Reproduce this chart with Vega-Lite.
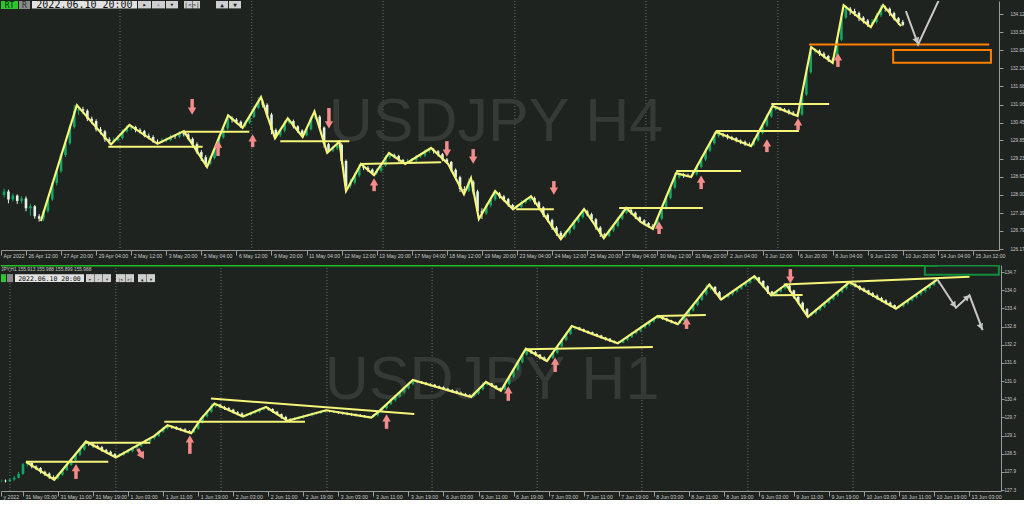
{
"$schema": "https://vega.github.io/schema/vega-lite/v6.json",
"background": "#1e231f",
"padding": 0,
"spacing": 15,
"bounds": "flush",
"config": {"view": {"stroke": null}, "axis": {"labelOverlap": false}},
"datasets": {
"top": [
{"i":-6,"o":128.1,"h":128.2,"l":127.9,"c":128.0},
{"i":-5,"o":128.0,"h":128.22,"l":127.92,"c":128.12},
{"i":-4,"o":128.12,"h":128.18,"l":127.72,"c":127.85},
{"i":-3,"o":127.85,"h":128.05,"l":127.78,"c":127.98},
{"i":-2,"o":127.98,"h":128.02,"l":127.7,"c":127.8},
{"i":-1,"o":127.8,"h":127.96,"l":127.72,"c":127.88},
{"i":0,"o":127.88,"h":127.95,"l":127.45,"c":127.55},
{"i":1,"o":127.55,"h":127.7,"l":127.3,"c":127.62},
{"i":2,"o":127.62,"h":127.66,"l":127.2,"c":127.28},
{"i":3,"o":127.28,"h":127.35,"l":127.1,"c":127.2},
{"i":4,"o":127.2,"h":127.5,"l":127.12,"c":127.45},
{"i":5,"o":127.45,"h":127.92,"l":127.4,"c":127.85},
{"i":6,"o":127.85,"h":128.45,"l":127.8,"c":128.4},
{"i":7,"o":128.4,"h":128.88,"l":128.32,"c":128.8},
{"i":8,"o":128.8,"h":129.42,"l":128.75,"c":129.35},
{"i":9,"o":129.35,"h":129.85,"l":129.28,"c":129.75},
{"i":10,"o":129.75,"h":130.38,"l":129.7,"c":130.3},
{"i":11,"o":130.3,"h":131.04,"l":130.25,"c":130.85},
{"i":12,"o":130.85,"h":131.0,"l":130.7,"c":130.9},
{"i":13,"o":130.9,"h":130.98,"l":130.75,"c":130.85},
{"i":14,"o":130.85,"h":130.9,"l":130.5,"c":130.58},
{"i":15,"o":130.58,"h":130.65,"l":130.4,"c":130.5},
{"i":16,"o":130.5,"h":130.56,"l":130.15,"c":130.22},
{"i":17,"o":130.22,"h":130.3,"l":130.05,"c":130.15},
{"i":18,"o":130.15,"h":130.2,"l":129.8,"c":129.88},
{"i":19,"o":129.88,"h":129.95,"l":129.71,"c":129.82},
{"i":20,"o":129.82,"h":129.95,"l":129.75,"c":129.85},
{"i":21,"o":129.85,"h":130.02,"l":129.8,"c":129.92},
{"i":22,"o":129.92,"h":130.22,"l":129.88,"c":130.15},
{"i":23,"o":130.15,"h":130.37,"l":130.1,"c":130.25},
{"i":24,"o":130.25,"h":130.36,"l":130.18,"c":130.3},
{"i":25,"o":130.3,"h":130.34,"l":130.12,"c":130.2},
{"i":26,"o":130.2,"h":130.26,"l":130.08,"c":130.16},
{"i":27,"o":130.16,"h":130.2,"l":129.95,"c":130.0},
{"i":28,"o":130.0,"h":130.08,"l":129.88,"c":129.96},
{"i":29,"o":129.96,"h":130.02,"l":129.76,"c":129.8},
{"i":30,"o":129.8,"h":129.88,"l":129.73,"c":129.78},
{"i":31,"o":129.78,"h":129.92,"l":129.75,"c":129.84},
{"i":32,"o":129.84,"h":129.95,"l":129.78,"c":129.86},
{"i":33,"o":129.86,"h":130.05,"l":129.82,"c":129.98},
{"i":34,"o":129.98,"h":130.06,"l":129.9,"c":129.97},
{"i":35,"o":129.97,"h":130.16,"l":129.92,"c":130.1},
{"i":36,"o":130.1,"h":130.16,"l":129.98,"c":130.05},
{"i":37,"o":130.05,"h":130.1,"l":129.85,"c":129.9},
{"i":38,"o":129.9,"h":129.95,"l":129.6,"c":129.72},
{"i":39,"o":129.72,"h":129.78,"l":129.38,"c":129.45},
{"i":40,"o":129.45,"h":129.52,"l":129.15,"c":129.28},
{"i":41,"o":129.28,"h":129.35,"l":128.95,"c":129.05},
{"i":42,"o":129.05,"h":129.32,"l":129.0,"c":129.25},
{"i":43,"o":129.25,"h":129.62,"l":129.2,"c":129.55},
{"i":44,"o":129.55,"h":130.02,"l":129.5,"c":129.95},
{"i":45,"o":129.95,"h":130.35,"l":129.9,"c":130.25},
{"i":46,"o":130.25,"h":130.69,"l":130.2,"c":130.6},
{"i":47,"o":130.6,"h":130.66,"l":130.45,"c":130.55},
{"i":48,"o":130.55,"h":130.6,"l":130.4,"c":130.48},
{"i":49,"o":130.48,"h":130.52,"l":130.27,"c":130.33},
{"i":50,"o":130.33,"h":130.52,"l":130.28,"c":130.45},
{"i":51,"o":130.45,"h":130.72,"l":130.4,"c":130.64},
{"i":52,"o":130.64,"h":131.02,"l":130.6,"c":130.95},
{"i":53,"o":130.95,"h":131.31,"l":130.9,"c":131.15},
{"i":54,"o":131.15,"h":131.22,"l":130.96,"c":131.05},
{"i":55,"o":131.05,"h":131.1,"l":130.62,"c":130.72},
{"i":56,"o":130.72,"h":130.78,"l":130.05,"c":130.2},
{"i":57,"o":130.2,"h":130.25,"l":129.92,"c":130.02},
{"i":58,"o":130.02,"h":130.25,"l":129.96,"c":130.18},
{"i":59,"o":130.18,"h":130.52,"l":130.12,"c":130.45},
{"i":60,"o":130.45,"h":130.59,"l":130.4,"c":130.5},
{"i":61,"o":130.5,"h":130.55,"l":130.25,"c":130.32},
{"i":62,"o":130.32,"h":130.36,"l":130.1,"c":130.18},
{"i":63,"o":130.18,"h":130.22,"l":129.96,"c":130.02},
{"i":64,"o":130.02,"h":130.3,"l":129.98,"c":130.22},
{"i":65,"o":130.22,"h":130.66,"l":130.18,"c":130.6},
{"i":66,"o":130.6,"h":130.82,"l":130.55,"c":130.65},
{"i":67,"o":130.65,"h":130.7,"l":130.2,"c":130.28},
{"i":68,"o":130.28,"h":130.32,"l":129.6,"c":129.72},
{"i":69,"o":129.72,"h":129.76,"l":129.43,"c":129.5},
{"i":70,"o":129.5,"h":129.66,"l":129.45,"c":129.58},
{"i":71,"o":129.58,"h":129.8,"l":129.52,"c":129.7},
{"i":72,"o":129.7,"h":129.75,"l":129.05,"c":129.15},
{"i":73,"o":129.15,"h":129.2,"l":128.13,"c":128.3},
{"i":74,"o":128.3,"h":128.55,"l":128.22,"c":128.42},
{"i":75,"o":128.42,"h":128.75,"l":128.36,"c":128.66},
{"i":76,"o":128.66,"h":129.05,"l":128.6,"c":128.95},
{"i":77,"o":128.95,"h":129.02,"l":128.84,"c":128.92},
{"i":78,"o":128.92,"h":128.98,"l":128.78,"c":128.86},
{"i":79,"o":128.86,"h":128.9,"l":128.67,"c":128.74},
{"i":80,"o":128.74,"h":128.9,"l":128.68,"c":128.82},
{"i":81,"o":128.82,"h":129.08,"l":128.76,"c":129.0},
{"i":82,"o":129.0,"h":129.34,"l":128.95,"c":129.28},
{"i":83,"o":129.28,"h":129.42,"l":129.22,"c":129.35},
{"i":84,"o":129.35,"h":129.4,"l":129.24,"c":129.32},
{"i":85,"o":129.32,"h":129.36,"l":129.12,"c":129.18},
{"i":86,"o":129.18,"h":129.22,"l":129.05,"c":129.12},
{"i":87,"o":129.12,"h":129.22,"l":129.06,"c":129.14},
{"i":88,"o":129.14,"h":129.25,"l":129.08,"c":129.18},
{"i":89,"o":129.18,"h":129.36,"l":129.12,"c":129.3},
{"i":90,"o":129.3,"h":129.42,"l":129.25,"c":129.34},
{"i":91,"o":129.34,"h":129.54,"l":129.28,"c":129.48},
{"i":92,"o":129.48,"h":129.59,"l":129.42,"c":129.52},
{"i":93,"o":129.52,"h":129.58,"l":129.4,"c":129.48},
{"i":94,"o":129.48,"h":129.52,"l":129.3,"c":129.38},
{"i":95,"o":129.38,"h":129.42,"l":129.14,"c":129.2},
{"i":96,"o":129.2,"h":129.25,"l":129.05,"c":129.12},
{"i":97,"o":129.12,"h":129.15,"l":128.78,"c":128.85},
{"i":98,"o":128.85,"h":128.9,"l":128.5,"c":128.6},
{"i":99,"o":128.6,"h":128.65,"l":128.1,"c":128.2},
{"i":100,"o":128.2,"h":128.3,"l":128.03,"c":128.15},
{"i":101,"o":128.15,"h":128.57,"l":128.1,"c":128.45},
{"i":102,"o":128.45,"h":128.5,"l":128.02,"c":128.12},
{"i":103,"o":128.12,"h":128.18,"l":127.3,"c":127.45},
{"i":104,"o":127.45,"h":127.55,"l":127.19,"c":127.38},
{"i":105,"o":127.38,"h":127.72,"l":127.32,"c":127.65},
{"i":106,"o":127.65,"h":127.92,"l":127.58,"c":127.85},
{"i":107,"o":127.85,"h":128.13,"l":127.8,"c":128.05},
{"i":108,"o":128.05,"h":128.1,"l":127.88,"c":127.95},
{"i":109,"o":127.95,"h":128.0,"l":127.78,"c":127.86},
{"i":110,"o":127.86,"h":127.9,"l":127.6,"c":127.66},
{"i":111,"o":127.66,"h":127.7,"l":127.52,"c":127.58},
{"i":112,"o":127.58,"h":127.68,"l":127.52,"c":127.6},
{"i":113,"o":127.6,"h":127.82,"l":127.55,"c":127.75},
{"i":114,"o":127.75,"h":127.88,"l":127.7,"c":127.82},
{"i":115,"o":127.82,"h":127.96,"l":127.78,"c":127.9},
{"i":116,"o":127.9,"h":127.95,"l":127.68,"c":127.75},
{"i":117,"o":127.75,"h":127.8,"l":127.5,"c":127.58},
{"i":118,"o":127.58,"h":127.62,"l":127.25,"c":127.33},
{"i":119,"o":127.33,"h":127.38,"l":127.08,"c":127.15},
{"i":120,"o":127.15,"h":127.2,"l":126.82,"c":126.9},
{"i":121,"o":126.9,"h":126.95,"l":126.62,"c":126.72},
{"i":122,"o":126.72,"h":126.78,"l":126.51,"c":126.6},
{"i":123,"o":126.6,"h":126.8,"l":126.55,"c":126.72},
{"i":124,"o":126.72,"h":126.92,"l":126.66,"c":126.86},
{"i":125,"o":126.86,"h":127.16,"l":126.82,"c":127.1},
{"i":126,"o":127.1,"h":127.32,"l":127.05,"c":127.25},
{"i":127,"o":127.25,"h":127.52,"l":127.2,"c":127.45},
{"i":128,"o":127.45,"h":127.5,"l":127.28,"c":127.35},
{"i":129,"o":127.35,"h":127.4,"l":127.1,"c":127.18},
{"i":130,"o":127.18,"h":127.22,"l":126.82,"c":126.9},
{"i":131,"o":126.9,"h":126.95,"l":126.58,"c":126.68},
{"i":132,"o":126.68,"h":126.72,"l":126.54,"c":126.62},
{"i":133,"o":126.62,"h":126.86,"l":126.58,"c":126.8},
{"i":134,"o":126.8,"h":127.02,"l":126.75,"c":126.95},
{"i":135,"o":126.95,"h":127.26,"l":126.9,"c":127.2},
{"i":136,"o":127.2,"h":127.48,"l":127.15,"c":127.4},
{"i":137,"o":127.4,"h":127.56,"l":127.36,"c":127.5},
{"i":138,"o":127.5,"h":127.54,"l":127.34,"c":127.4},
{"i":139,"o":127.4,"h":127.44,"l":127.18,"c":127.25},
{"i":140,"o":127.25,"h":127.28,"l":127.08,"c":127.14},
{"i":141,"o":127.14,"h":127.18,"l":126.98,"c":127.05},
{"i":142,"o":127.05,"h":127.08,"l":126.9,"c":126.96},
{"i":143,"o":126.96,"h":127.02,"l":126.85,"c":126.92},
{"i":144,"o":126.92,"h":127.26,"l":126.88,"c":127.2},
{"i":145,"o":127.2,"h":127.62,"l":127.15,"c":127.55},
{"i":146,"o":127.55,"h":127.98,"l":127.5,"c":127.9},
{"i":147,"o":127.9,"h":128.32,"l":127.85,"c":128.25},
{"i":148,"o":128.25,"h":128.74,"l":128.2,"c":128.6},
{"i":149,"o":128.6,"h":128.74,"l":128.55,"c":128.68},
{"i":150,"o":128.68,"h":128.74,"l":128.58,"c":128.66},
{"i":151,"o":128.66,"h":128.72,"l":128.61,"c":128.65},
{"i":152,"o":128.65,"h":128.78,"l":128.61,"c":128.7},
{"i":153,"o":128.7,"h":129.02,"l":128.66,"c":128.95},
{"i":154,"o":128.95,"h":129.28,"l":128.9,"c":129.2},
{"i":155,"o":129.2,"h":129.58,"l":129.15,"c":129.5},
{"i":156,"o":129.5,"h":129.82,"l":129.45,"c":129.75},
{"i":157,"o":129.75,"h":130.13,"l":129.7,"c":130.0},
{"i":158,"o":130.0,"h":130.12,"l":129.94,"c":130.05},
{"i":159,"o":130.05,"h":130.1,"l":129.95,"c":130.02},
{"i":160,"o":130.02,"h":130.06,"l":129.88,"c":129.95},
{"i":161,"o":129.95,"h":130.0,"l":129.85,"c":129.92},
{"i":162,"o":129.92,"h":129.96,"l":129.78,"c":129.84},
{"i":163,"o":129.84,"h":129.88,"l":129.72,"c":129.8},
{"i":164,"o":129.8,"h":129.84,"l":129.66,"c":129.72},
{"i":165,"o":129.72,"h":129.78,"l":129.65,"c":129.7},
{"i":166,"o":129.7,"h":129.92,"l":129.66,"c":129.85},
{"i":167,"o":129.85,"h":130.18,"l":129.8,"c":130.1},
{"i":168,"o":130.1,"h":130.42,"l":130.05,"c":130.35},
{"i":169,"o":130.35,"h":130.74,"l":130.3,"c":130.66},
{"i":170,"o":130.66,"h":131.01,"l":130.6,"c":130.9},
{"i":171,"o":130.9,"h":131.0,"l":130.85,"c":130.95},
{"i":172,"o":130.95,"h":130.98,"l":130.84,"c":130.9},
{"i":173,"o":130.9,"h":130.94,"l":130.8,"c":130.86},
{"i":174,"o":130.86,"h":130.9,"l":130.72,"c":130.78},
{"i":175,"o":130.78,"h":130.84,"l":130.68,"c":130.75},
{"i":176,"o":130.75,"h":130.8,"l":130.67,"c":130.72},
{"i":177,"o":130.72,"h":131.46,"l":130.68,"c":131.4},
{"i":178,"o":131.4,"h":132.22,"l":131.35,"c":132.15},
{"i":179,"o":132.15,"h":133.0,"l":132.1,"c":132.85},
{"i":180,"o":132.85,"h":132.96,"l":132.78,"c":132.88},
{"i":181,"o":132.88,"h":132.92,"l":132.7,"c":132.78},
{"i":182,"o":132.78,"h":132.84,"l":132.62,"c":132.7},
{"i":183,"o":132.7,"h":132.74,"l":132.5,"c":132.58},
{"i":184,"o":132.58,"h":132.64,"l":132.47,"c":132.55},
{"i":185,"o":132.55,"h":133.32,"l":132.5,"c":133.25},
{"i":186,"o":133.25,"h":134.1,"l":133.2,"c":134.0},
{"i":187,"o":134.0,"h":134.42,"l":133.95,"c":134.3},
{"i":188,"o":134.3,"h":134.36,"l":134.1,"c":134.22},
{"i":189,"o":134.22,"h":134.3,"l":134.05,"c":134.15},
{"i":190,"o":134.15,"h":134.2,"l":133.88,"c":134.0},
{"i":191,"o":134.0,"h":134.05,"l":133.8,"c":133.9},
{"i":192,"o":133.9,"h":133.95,"l":133.68,"c":133.78},
{"i":193,"o":133.78,"h":133.95,"l":133.72,"c":133.85},
{"i":194,"o":133.85,"h":134.15,"l":133.8,"c":134.08},
{"i":195,"o":134.08,"h":134.42,"l":134.02,"c":134.32},
{"i":196,"o":134.32,"h":134.4,"l":134.2,"c":134.3},
{"i":197,"o":134.3,"h":134.34,"l":134.05,"c":134.15},
{"i":198,"o":134.15,"h":134.2,"l":133.9,"c":133.98},
{"i":199,"o":133.98,"h":134.02,"l":133.75,"c":133.85},
{"i":200,"o":133.85,"h":133.92,"l":133.71,"c":133.75}
],
"bot": [
{"i":-5,"o":127.6,"h":127.66,"l":127.57,"c":127.62},
{"i":-4,"o":127.62,"h":127.66,"l":127.56,"c":127.6},
{"i":-3,"o":127.6,"h":127.7,"l":127.58,"c":127.66},
{"i":-2,"o":127.66,"h":127.78,"l":127.62,"c":127.72},
{"i":-1,"o":127.72,"h":127.92,"l":127.7,"c":127.85},
{"i":0,"o":127.85,"h":128.22,"l":127.82,"c":128.18},
{"i":1,"o":128.18,"h":128.26,"l":128.1,"c":128.22},
{"i":2,"o":128.22,"h":128.24,"l":128.04,"c":128.1},
{"i":3,"o":128.1,"h":128.14,"l":127.98,"c":128.05},
{"i":4,"o":128.05,"h":128.08,"l":127.86,"c":127.92},
{"i":5,"o":127.92,"h":127.96,"l":127.78,"c":127.86},
{"i":6,"o":127.86,"h":127.9,"l":127.68,"c":127.74},
{"i":7,"o":127.74,"h":127.8,"l":127.65,"c":127.7},
{"i":8,"o":127.7,"h":127.86,"l":127.66,"c":127.82},
{"i":9,"o":127.82,"h":128.02,"l":127.78,"c":127.98},
{"i":10,"o":127.98,"h":128.2,"l":127.95,"c":128.15},
{"i":11,"o":128.15,"h":128.38,"l":128.12,"c":128.32},
{"i":12,"o":128.32,"h":128.56,"l":128.28,"c":128.5},
{"i":13,"o":128.5,"h":128.74,"l":128.46,"c":128.68},
{"i":14,"o":128.68,"h":128.95,"l":128.64,"c":128.88},
{"i":15,"o":128.88,"h":128.94,"l":128.8,"c":128.86},
{"i":16,"o":128.86,"h":128.9,"l":128.74,"c":128.8},
{"i":17,"o":128.8,"h":128.84,"l":128.7,"c":128.76},
{"i":18,"o":128.76,"h":128.8,"l":128.6,"c":128.66},
{"i":19,"o":128.66,"h":128.7,"l":128.55,"c":128.6},
{"i":20,"o":128.6,"h":128.64,"l":128.46,"c":128.52},
{"i":21,"o":128.52,"h":128.56,"l":128.41,"c":128.45},
{"i":22,"o":128.45,"h":128.55,"l":128.42,"c":128.5},
{"i":23,"o":128.5,"h":128.62,"l":128.46,"c":128.58},
{"i":24,"o":128.58,"h":128.68,"l":128.54,"c":128.62},
{"i":25,"o":128.62,"h":128.78,"l":128.58,"c":128.74},
{"i":26,"o":128.74,"h":128.86,"l":128.7,"c":128.8},
{"i":27,"o":128.8,"h":128.95,"l":128.76,"c":128.9},
{"i":28,"o":128.9,"h":129.02,"l":128.86,"c":128.96},
{"i":29,"o":128.96,"h":129.1,"l":128.92,"c":129.06},
{"i":30,"o":129.06,"h":129.18,"l":129.02,"c":129.14},
{"i":31,"o":129.14,"h":129.32,"l":129.1,"c":129.28},
{"i":32,"o":129.28,"h":129.44,"l":129.24,"c":129.4},
{"i":33,"o":129.4,"h":129.5,"l":129.36,"c":129.46},
{"i":34,"o":129.46,"h":129.49,"l":129.38,"c":129.44},
{"i":35,"o":129.44,"h":129.47,"l":129.34,"c":129.38},
{"i":36,"o":129.38,"h":129.42,"l":129.3,"c":129.36},
{"i":37,"o":129.36,"h":129.4,"l":129.26,"c":129.3},
{"i":38,"o":129.3,"h":129.34,"l":129.23,"c":129.26},
{"i":39,"o":129.26,"h":129.42,"l":129.24,"c":129.38},
{"i":40,"o":129.38,"h":129.64,"l":129.35,"c":129.6},
{"i":41,"o":129.6,"h":129.84,"l":129.56,"c":129.8},
{"i":42,"o":129.8,"h":130.0,"l":129.76,"c":129.96},
{"i":43,"o":129.96,"h":130.24,"l":129.92,"c":130.14},
{"i":44,"o":130.14,"h":130.24,"l":130.1,"c":130.2},
{"i":45,"o":130.2,"h":130.22,"l":130.08,"c":130.12},
{"i":46,"o":130.12,"h":130.16,"l":130.02,"c":130.08},
{"i":47,"o":130.08,"h":130.12,"l":129.98,"c":130.03},
{"i":48,"o":130.03,"h":130.06,"l":129.9,"c":129.94},
{"i":49,"o":129.94,"h":129.98,"l":129.84,"c":129.9},
{"i":50,"o":129.9,"h":129.94,"l":129.8,"c":129.82},
{"i":51,"o":129.82,"h":129.9,"l":129.8,"c":129.86},
{"i":52,"o":129.86,"h":129.96,"l":129.82,"c":129.92},
{"i":53,"o":129.92,"h":130.02,"l":129.88,"c":129.96},
{"i":54,"o":129.96,"h":130.08,"l":129.92,"c":130.04},
{"i":55,"o":130.04,"h":130.12,"l":130.0,"c":130.08},
{"i":56,"o":130.08,"h":130.12,"l":130.0,"c":130.05},
{"i":57,"o":130.05,"h":130.08,"l":129.92,"c":129.96},
{"i":58,"o":129.96,"h":129.99,"l":129.84,"c":129.88},
{"i":59,"o":129.88,"h":129.9,"l":129.72,"c":129.78},
{"i":60,"o":129.78,"h":129.82,"l":129.65,"c":129.7},
{"i":61,"o":129.7,"h":129.74,"l":129.65,"c":129.68},
{"i":62,"o":129.68,"h":129.78,"l":129.66,"c":129.74},
{"i":63,"o":129.74,"h":129.8,"l":129.7,"c":129.76},
{"i":64,"o":129.76,"h":129.86,"l":129.72,"c":129.82},
{"i":65,"o":129.82,"h":129.88,"l":129.78,"c":129.84},
{"i":66,"o":129.84,"h":129.94,"l":129.8,"c":129.9},
{"i":67,"o":129.9,"h":129.96,"l":129.86,"c":129.92},
{"i":68,"o":129.92,"h":130.0,"l":129.88,"c":129.97},
{"i":69,"o":129.97,"h":130.01,"l":129.92,"c":130.0},
{"i":70,"o":130.0,"h":130.02,"l":129.94,"c":129.98},
{"i":71,"o":129.98,"h":130.0,"l":129.92,"c":129.96},
{"i":72,"o":129.96,"h":129.98,"l":129.88,"c":129.93},
{"i":73,"o":129.93,"h":129.96,"l":129.86,"c":129.92},
{"i":74,"o":129.92,"h":129.94,"l":129.84,"c":129.88},
{"i":75,"o":129.88,"h":129.92,"l":129.82,"c":129.87},
{"i":76,"o":129.87,"h":129.9,"l":129.8,"c":129.84},
{"i":77,"o":129.84,"h":129.88,"l":129.78,"c":129.82},
{"i":78,"o":129.82,"h":129.85,"l":129.76,"c":129.79},
{"i":79,"o":129.79,"h":129.82,"l":129.76,"c":129.78},
{"i":80,"o":129.78,"h":129.88,"l":129.76,"c":129.84},
{"i":81,"o":129.84,"h":129.99,"l":129.8,"c":129.95},
{"i":82,"o":129.95,"h":130.12,"l":129.92,"c":130.08},
{"i":83,"o":130.08,"h":130.26,"l":130.04,"c":130.22},
{"i":84,"o":130.22,"h":130.4,"l":130.18,"c":130.35},
{"i":85,"o":130.35,"h":130.52,"l":130.3,"c":130.48},
{"i":86,"o":130.48,"h":130.66,"l":130.44,"c":130.62},
{"i":87,"o":130.62,"h":130.8,"l":130.58,"c":130.76},
{"i":88,"o":130.76,"h":130.95,"l":130.72,"c":130.9},
{"i":89,"o":130.9,"h":131.04,"l":130.86,"c":131.0},
{"i":90,"o":131.0,"h":131.02,"l":130.94,"c":130.98},
{"i":91,"o":130.98,"h":131.0,"l":130.9,"c":130.95},
{"i":92,"o":130.95,"h":130.96,"l":130.86,"c":130.9},
{"i":93,"o":130.9,"h":130.93,"l":130.82,"c":130.88},
{"i":94,"o":130.88,"h":130.9,"l":130.78,"c":130.82},
{"i":95,"o":130.82,"h":130.85,"l":130.74,"c":130.79},
{"i":96,"o":130.79,"h":130.82,"l":130.7,"c":130.74},
{"i":97,"o":130.74,"h":130.77,"l":130.65,"c":130.7},
{"i":98,"o":130.7,"h":130.73,"l":130.6,"c":130.66},
{"i":99,"o":130.66,"h":130.68,"l":130.56,"c":130.6},
{"i":100,"o":130.6,"h":130.64,"l":130.52,"c":130.56},
{"i":101,"o":130.56,"h":130.6,"l":130.48,"c":130.52},
{"i":102,"o":130.52,"h":130.56,"l":130.46,"c":130.5},
{"i":103,"o":130.5,"h":130.62,"l":130.47,"c":130.58},
{"i":104,"o":130.58,"h":130.76,"l":130.54,"c":130.72},
{"i":105,"o":130.72,"h":130.97,"l":130.68,"c":130.88},
{"i":106,"o":130.88,"h":130.96,"l":130.84,"c":130.92},
{"i":107,"o":130.92,"h":130.94,"l":130.8,"c":130.84},
{"i":108,"o":130.84,"h":130.86,"l":130.72,"c":130.76},
{"i":109,"o":130.76,"h":130.78,"l":130.67,"c":130.7},
{"i":110,"o":130.7,"h":130.94,"l":130.68,"c":130.9},
{"i":111,"o":130.9,"h":131.2,"l":130.86,"c":131.15},
{"i":112,"o":131.15,"h":131.45,"l":131.1,"c":131.4},
{"i":113,"o":131.4,"h":131.7,"l":131.35,"c":131.64},
{"i":114,"o":131.64,"h":131.95,"l":131.6,"c":131.9},
{"i":115,"o":131.9,"h":132.1,"l":131.86,"c":132.05},
{"i":116,"o":132.05,"h":132.08,"l":131.92,"c":131.98},
{"i":117,"o":131.98,"h":132.02,"l":131.84,"c":131.9},
{"i":118,"o":131.9,"h":131.92,"l":131.74,"c":131.8},
{"i":119,"o":131.8,"h":131.84,"l":131.68,"c":131.72},
{"i":120,"o":131.72,"h":131.82,"l":131.68,"c":131.78},
{"i":121,"o":131.78,"h":132.0,"l":131.74,"c":131.96},
{"i":122,"o":131.96,"h":132.22,"l":131.92,"c":132.18},
{"i":123,"o":132.18,"h":132.44,"l":132.14,"c":132.4},
{"i":124,"o":132.4,"h":132.65,"l":132.36,"c":132.6},
{"i":125,"o":132.6,"h":132.87,"l":132.56,"c":132.8},
{"i":126,"o":132.8,"h":132.86,"l":132.74,"c":132.82},
{"i":127,"o":132.82,"h":132.84,"l":132.72,"c":132.76},
{"i":128,"o":132.76,"h":132.78,"l":132.66,"c":132.7},
{"i":129,"o":132.7,"h":132.72,"l":132.6,"c":132.66},
{"i":130,"o":132.66,"h":132.68,"l":132.56,"c":132.6},
{"i":131,"o":132.6,"h":132.62,"l":132.5,"c":132.55},
{"i":132,"o":132.55,"h":132.57,"l":132.44,"c":132.48},
{"i":133,"o":132.48,"h":132.5,"l":132.38,"c":132.44},
{"i":134,"o":132.44,"h":132.46,"l":132.32,"c":132.36},
{"i":135,"o":132.36,"h":132.38,"l":132.28,"c":132.32},
{"i":136,"o":132.32,"h":132.35,"l":132.28,"c":132.3},
{"i":137,"o":132.3,"h":132.44,"l":132.28,"c":132.4},
{"i":138,"o":132.4,"h":132.54,"l":132.36,"c":132.5},
{"i":139,"o":132.5,"h":132.66,"l":132.46,"c":132.62},
{"i":140,"o":132.62,"h":132.75,"l":132.58,"c":132.7},
{"i":141,"o":132.7,"h":132.86,"l":132.66,"c":132.82},
{"i":142,"o":132.82,"h":132.95,"l":132.78,"c":132.9},
{"i":143,"o":132.9,"h":133.06,"l":132.86,"c":133.02},
{"i":144,"o":133.02,"h":133.16,"l":132.98,"c":133.12},
{"i":145,"o":133.12,"h":133.21,"l":133.1,"c":133.18},
{"i":146,"o":133.18,"h":133.2,"l":133.08,"c":133.12},
{"i":147,"o":133.12,"h":133.15,"l":133.02,"c":133.06},
{"i":148,"o":133.06,"h":133.08,"l":132.96,"c":133.0},
{"i":149,"o":133.0,"h":133.02,"l":132.93,"c":132.96},
{"i":150,"o":132.96,"h":133.08,"l":132.94,"c":133.04},
{"i":151,"o":133.04,"h":133.26,"l":133.0,"c":133.22},
{"i":152,"o":133.22,"h":133.45,"l":133.18,"c":133.4},
{"i":153,"o":133.4,"h":133.63,"l":133.36,"c":133.58},
{"i":154,"o":133.58,"h":133.8,"l":133.54,"c":133.76},
{"i":155,"o":133.76,"h":134.0,"l":133.72,"c":133.95},
{"i":156,"o":133.95,"h":134.28,"l":133.9,"c":134.14},
{"i":157,"o":134.14,"h":134.26,"l":134.08,"c":134.2},
{"i":158,"o":134.2,"h":134.22,"l":133.96,"c":134.02},
{"i":159,"o":134.02,"h":134.06,"l":133.77,"c":133.84},
{"i":160,"o":133.84,"h":133.9,"l":133.78,"c":133.86},
{"i":161,"o":133.86,"h":133.98,"l":133.82,"c":133.94},
{"i":162,"o":133.94,"h":134.08,"l":133.9,"c":134.04},
{"i":163,"o":134.04,"h":134.18,"l":134.0,"c":134.14},
{"i":164,"o":134.14,"h":134.28,"l":134.1,"c":134.24},
{"i":165,"o":134.24,"h":134.38,"l":134.2,"c":134.34},
{"i":166,"o":134.34,"h":134.5,"l":134.3,"c":134.46},
{"i":167,"o":134.46,"h":134.56,"l":134.42,"c":134.52},
{"i":168,"o":134.52,"h":134.54,"l":134.34,"c":134.4},
{"i":169,"o":134.4,"h":134.42,"l":134.16,"c":134.22},
{"i":170,"o":134.22,"h":134.25,"l":133.96,"c":134.04},
{"i":171,"o":134.04,"h":134.06,"l":133.91,"c":133.94},
{"i":172,"o":133.94,"h":134.08,"l":133.92,"c":134.04},
{"i":173,"o":134.04,"h":134.19,"l":134.0,"c":134.15},
{"i":174,"o":134.15,"h":134.28,"l":134.1,"c":134.24},
{"i":175,"o":134.24,"h":134.26,"l":134.02,"c":134.08},
{"i":176,"o":134.08,"h":134.1,"l":133.8,"c":133.86},
{"i":177,"o":133.86,"h":133.9,"l":133.6,"c":133.66},
{"i":178,"o":133.66,"h":133.7,"l":133.38,"c":133.44},
{"i":179,"o":133.44,"h":133.48,"l":133.18,"c":133.24},
{"i":180,"o":133.24,"h":133.34,"l":133.2,"c":133.3},
{"i":181,"o":133.3,"h":133.46,"l":133.26,"c":133.42},
{"i":182,"o":133.42,"h":133.56,"l":133.38,"c":133.52},
{"i":183,"o":133.52,"h":133.7,"l":133.48,"c":133.66},
{"i":184,"o":133.66,"h":133.82,"l":133.62,"c":133.78},
{"i":185,"o":133.78,"h":133.94,"l":133.74,"c":133.9},
{"i":186,"o":133.9,"h":134.06,"l":133.86,"c":134.02},
{"i":187,"o":134.02,"h":134.19,"l":133.98,"c":134.15},
{"i":188,"o":134.15,"h":134.36,"l":134.1,"c":134.28},
{"i":189,"o":134.28,"h":134.34,"l":134.22,"c":134.3},
{"i":190,"o":134.3,"h":134.32,"l":134.18,"c":134.22},
{"i":191,"o":134.22,"h":134.25,"l":134.08,"c":134.14},
{"i":192,"o":134.14,"h":134.18,"l":134.02,"c":134.08},
{"i":193,"o":134.08,"h":134.1,"l":133.92,"c":133.98},
{"i":194,"o":133.98,"h":134.02,"l":133.85,"c":133.9},
{"i":195,"o":133.9,"h":133.94,"l":133.76,"c":133.82},
{"i":196,"o":133.82,"h":133.86,"l":133.68,"c":133.74},
{"i":197,"o":133.74,"h":133.78,"l":133.6,"c":133.66},
{"i":198,"o":133.66,"h":133.7,"l":133.52,"c":133.58},
{"i":199,"o":133.58,"h":133.6,"l":133.46,"c":133.5},
{"i":200,"o":133.5,"h":133.58,"l":133.46,"c":133.54},
{"i":201,"o":133.54,"h":133.68,"l":133.5,"c":133.64},
{"i":202,"o":133.64,"h":133.78,"l":133.6,"c":133.74},
{"i":203,"o":133.74,"h":133.88,"l":133.7,"c":133.84},
{"i":204,"o":133.84,"h":133.99,"l":133.8,"c":133.95},
{"i":205,"o":133.95,"h":134.09,"l":133.9,"c":134.05},
{"i":206,"o":134.05,"h":134.2,"l":134.0,"c":134.16},
{"i":207,"o":134.16,"h":134.3,"l":134.12,"c":134.26},
{"i":208,"o":134.26,"h":134.45,"l":134.22,"c":134.38},
{"i":209,"o":134.38,"h":134.44,"l":134.3,"c":134.4}
]
},
"vconcat": [
{
"width": 998,
"height": 249,
"layer": [
{"data": {"values": [{"g":21.45},{"g":51.5},{"g":81.45},{"g":111.5},{"g":141.4},{"g":171.5}]},
 "mark": {"type":"rule","color":"#6a6e6b","strokeDash":[1,2],"strokeWidth":1},
 "encoding": {"x": {"field":"g","type":"quantitative","scale":{"domain":[-5.7,221.94],"nice":false,"zero":false,"padding":0},
  "axis": {"title":null,"grid":false,"tickCount":500,"values":[-5.7,0,8,16,24,32,40,48,56,64,72,80,88,96,104,112,120,128,136,144,152,160,168,176,184,192,200,208,216],
   "labelExpr":"datum.value < -1 ? 'Apr 2022' : ['26 Apr 12:00','27 Apr 20:00','29 Apr 04:00','2 May 12:00','3 May 20:00','5 May 04:00','6 May 12:00','9 May 20:00','11 May 04:00','12 May 12:00','13 May 20:00','17 May 04:00','18 May 12:00','19 May 20:00','23 May 04:00','24 May 12:00','25 May 20:00','27 May 04:00','30 May 12:00','31 May 20:00','2 Jun 04:00','3 Jun 12:00','6 Jun 20:00','8 Jun 04:00','9 Jun 12:00','10 Jun 20:00','14 Jun 04:00','15 Jun 12:00'][round(datum.value/8)]",
   "labelAlign":"left","labelBaseline":"top","labelOffset":2,"labelPadding":-2,"tickSize":5,"labelFontSize":5.2,"labelFont":"Liberation Sans","labelColor":"#c8c8c8","tickColor":"#9a9a9a","domainColor":"#9a9a9a","labelOverlap":false,"labelFlush":false,"labelBound":false}}}},
{"data": {"values": [{"i":107.2,"p":129.82,"t":"USDJPY H4"}]},
 "mark": {"type":"text","font":"Liberation Sans","fontSize":61,"align":"center","baseline":"alphabetic","color":"#353a36"},
 "encoding": {"x":{"field":"i","type":"quantitative"},"y":{"field":"p","type":"quantitative","scale":{"domain":[126.14,134.56],"nice":false,"zero":false,"padding":0}},"text":{"field":"t"}}},
{"data": {"name":"top"},
 "mark": {"type":"rule","strokeWidth":1,"clip":true},
 "encoding": {"x":{"field":"i","type":"quantitative"},
  "y":{"field":"l","type":"quantitative","scale":{"domain":[126.14,134.56],"nice":false,"zero":false,"padding":0},
   "axis":{"title":null,"orient":"right","grid":false,"tickCount":500,"values":[134.12,133.51,132.89,132.29,131.68,131.06,130.45,129.85,129.23,128.62,128.0,127.39,126.79,126.17],"format":".2f",
    "labelAlign":"left","labelBaseline":"middle","tickSize":4,"labelPadding":7,"labelFontSize":4.6,"labelFont":"Liberation Sans","labelColor":"#c8c8c8","tickColor":"#9a9a9a","domainColor":"#9a9a9a","labelOverlap":false,"labelFlush":false,"labelBound":false}},
  "y2":{"field":"h"},
  "color":{"condition":{"test":"datum.c >= datum.o","value":"#14a468"},"value":"#e4f4e4"}}},
{"data": {"name":"top"},
 "mark": {"type":"bar","width":2.6,"clip":true},
 "encoding": {"x":{"field":"i","type":"quantitative"},
  "y":{"field":"o","type":"quantitative"},
  "y2":{"field":"c"},
  "color":{"condition":{"test":"datum.c >= datum.o","value":"#14a468"},"value":"#e4f4e4"}}},
{"data": {"values": [{"i":3.4,"p":127.12},{"i":11.6,"p":131.04},{"i":19.4,"p":129.71},{"i":23.6,"p":130.37},{"i":30.0,"p":129.73},{"i":36.0,"p":130.16},{"i":41.3,"p":128.95},{"i":46.1,"p":130.69},{"i":49.4,"p":130.27},{"i":53.6,"p":131.31},{"i":56.8,"p":129.92},{"i":59.7,"p":130.59},{"i":63.1,"p":129.96},{"i":65.8,"p":130.82},{"i":68.7,"p":129.43},{"i":71.5,"p":129.8},{"i":73.0,"p":128.13},{"i":76.4,"p":129.05},{"i":79.4,"p":128.67},{"i":82.8,"p":129.42},{"i":86.5,"p":129.05},{"i":92.4,"p":129.59},{"i":96.3,"p":129.05},{"i":99.9,"p":128.03},{"i":101.5,"p":128.57},{"i":103.3,"p":127.19},{"i":107.0,"p":128.13},{"i":111.1,"p":127.52},{"i":115.2,"p":127.96},{"i":122.0,"p":126.51},{"i":127.3,"p":127.52},{"i":131.8,"p":126.54},{"i":136.9,"p":127.56},{"i":140.3,"p":127.08},{"i":143.0,"p":126.85},{"i":148.3,"p":128.74},{"i":151.7,"p":128.61},{"i":157.4,"p":130.13},{"i":165.4,"p":129.65},{"i":170.3,"p":131.01},{"i":176.0,"p":130.67},{"i":179.1,"p":133.0},{"i":184.0,"p":132.47},{"i":186.5,"p":134.42},{"i":192.7,"p":133.68},{"i":195.5,"p":134.42},{"i":199.6,"p":133.71}]},
 "mark": {"type":"line","color":"#f5f57a","strokeWidth":2.2,"clip":true},
 "encoding": {"x":{"field":"i","type":"quantitative"},"y":{"field":"p","type":"quantitative"}}},
{"data": {"values": [{"i":18.77,"i2":40.3,"p":129.63,"p2":129.63},{"i":35.97,"i2":50.94,"p":130.14,"p2":130.14},{"i":58.0,"i2":73.75,"p":129.82,"p2":129.82},{"i":76.4,"i2":94.7,"p":129.05,"p2":129.11},{"i":111.8,"i2":120.4,"p":127.52,"p2":127.52},{"i":135.3,"i2":154.4,"p":127.56,"p2":127.56},{"i":148.3,"i2":163.1,"p":128.81,"p2":128.81},{"i":157.4,"i2":176.3,"p":130.16,"p2":130.16},{"i":170.0,"i2":183.2,"p":131.08,"p2":131.08}]},
 "mark": {"type":"rule","color":"#f5f57a","strokeWidth":2,"clip":true},
 "encoding": {"x":{"field":"i","type":"quantitative"},"x2":{"field":"i2"},"y":{"field":"p","type":"quantitative"},"y2":{"field":"p2"}}},
{"data": {"values": [{"i":178.6,"i2":219.7,"p":133.09,"p2":133.09}]},
 "mark": {"type":"rule","color":"#ff8000","strokeWidth":2,"clip":true},
 "encoding": {"x":{"field":"i","type":"quantitative"},"x2":{"field":"i2"},"y":{"field":"p","type":"quantitative"},"y2":{"field":"p2"}}},
{"data": {"values": [{"i":197.8,"i2":220.1,"p":132.9,"p2":132.47}]},
 "mark": {"type":"rect","filled":false,"color":"#ff8000","strokeWidth":2,"clip":true},
 "encoding": {"x":{"field":"i","type":"quantitative"},"x2":{"field":"i2"},"y":{"field":"p","type":"quantitative"},"y2":{"field":"p2"}}},
{"data": {"values": [{"i":37.9,"i2":37.9,"t":131.245,"h":130.84,"a":180},{"i":69.1,"i2":69.1,"t":130.94,"h":130.37,"a":180},{"i":96.0,"i2":96.0,"t":129.82,"h":129.42,"a":180},{"i":102.0,"i2":102.0,"t":129.55,"h":129.18,"a":180},{"i":120.4,"i2":120.4,"t":128.47,"h":128.13,"a":180},{"i":43.8,"i2":43.8,"t":129.32,"h":129.72,"a":0},{"i":51.7,"i2":51.7,"t":129.62,"h":129.93,"a":0},{"i":79.4,"i2":79.4,"t":128.13,"h":128.44,"a":0},{"i":144.4,"i2":144.4,"t":126.68,"h":126.98,"a":0},{"i":154.0,"i2":154.0,"t":128.2,"h":128.54,"a":0},{"i":169.0,"i2":169.0,"t":129.45,"h":129.76,"a":0},{"i":176.1,"i2":176.1,"t":130.2,"h":130.47,"a":0},{"i":185.2,"i2":185.2,"t":132.33,"h":132.67,"a":0}]},
 "layer": [
  {"mark": {"type":"rule","color":"#f58c8c","strokeWidth":3.5,"clip":true},
   "encoding": {"x":{"field":"i","type":"quantitative"},"x2":{"field":"i2"},"y":{"field":"t","type":"quantitative"},"y2":{"field":"h"}}},
  {"mark": {"type":"point","shape":"triangle-up","filled":true,"color":"#f58c8c","opacity":1,"size":70,"clip":true},
   "encoding": {"x":{"field":"i2","type":"quantitative"},"y":{"field":"h","type":"quantitative"},"angle":{"field":"a","type":"quantitative","scale":null}}}
 ]},
{"data": {"values": [{"k":1,"i":200.7,"p":134.22},{"k":2,"i":203.5,"p":133.09},{"k":3,"i":209.2,"p":134.9}]},
 "mark": {"type":"line","color":"#c8c8c8","strokeWidth":2,"clip":true},
 "encoding": {"x":{"field":"i","type":"quantitative"},"y":{"field":"p","type":"quantitative"},"order":{"field":"k"}}},
{"data": {"values": [{"i":203.2,"p":133.21,"a":160}]},
 "mark": {"type":"point","shape":"triangle-up","filled":true,"color":"#c8c8c8","opacity":1,"size":50,"clip":true},
 "encoding": {"x":{"field":"i","type":"quantitative"},"y":{"field":"p","type":"quantitative"},"angle":{"field":"a","type":"quantitative","scale":null}}},
{"data": {"values": [
  {"i":-5.7,"i2":-1.82,"p":134.29,"p2":134.56,"f":"#2ec42e"},
  {"i":-1.6,"i2":0.91,"p":134.29,"p2":134.56,"f":"#8a8a8a"},
  {"i":1.37,"i2":25.32,"p":134.31,"p2":134.56,"f":"#e2e2e2"},
  {"i":25.55,"i2":28.51,"p":134.31,"p2":134.56,"f":"#cfcfcf"},
  {"i":28.74,"i2":31.71,"p":134.31,"p2":134.56,"f":"#cfcfcf"},
  {"i":31.93,"i2":34.67,"p":134.31,"p2":134.56,"f":"#cfcfcf"},
  {"i":36.04,"i2":37.86,"p":134.31,"p2":134.56,"f":"#cfcfcf"},
  {"i":37.98,"i2":39.69,"p":134.31,"p2":134.56,"f":"#cfcfcf"},
  {"i":43.34,"i2":46.08,"p":134.31,"p2":134.56,"f":"#cfcfcf"},
  {"i":46.3,"i2":49.04,"p":134.31,"p2":134.56,"f":"#cfcfcf"}]},
 "mark": {"type":"rect","clip":true},
 "encoding": {"x":{"field":"i","type":"quantitative"},"x2":{"field":"i2"},"y":{"field":"p","type":"quantitative"},"y2":{"field":"p2"},"color":{"field":"f","type":"nominal","scale":null}}},
{"data": {"values": [
  {"i":-3.76,"p":134.33,"t":"RT","s":8,"f":"#0a2a0a"},
  {"i":-0.34,"p":134.33,"t":"R","s":8,"f":"#303030"},
  {"i":13.34,"p":134.34,"t":"2022.06.10 20:00","s":10,"f":"#111111"},
  {"i":27.03,"p":134.35,"t":"▸","s":7,"f":"#222222"},
  {"i":30.22,"p":134.35,"t":"-","s":7,"f":"#222222"},
  {"i":33.3,"p":134.35,"t":"▾","s":7,"f":"#222222"},
  {"i":36.95,"p":134.35,"t":"|<","s":6,"f":"#222222"},
  {"i":38.78,"p":134.35,"t":">|","s":6,"f":"#222222"},
  {"i":44.71,"p":134.35,"t":"▲","s":6,"f":"#222222"},
  {"i":47.67,"p":134.35,"t":"▼","s":6,"f":"#222222"}]},
 "mark": {"type":"text","font":"DejaVu Sans Mono","align":"center","baseline":"alphabetic","clip":true},
 "encoding": {"x":{"field":"i","type":"quantitative"},"y":{"field":"p","type":"quantitative"},"text":{"field":"t"},"size":{"field":"s","type":"quantitative","scale":null},"color":{"field":"f","type":"nominal","scale":null}}}
]
},
{
"width": 1000,
"height": 226,
"layer": [
{"data": {"values": [{"g":-2.97},{"g":21.2},{"g":45.2},{"g":69.4},{"g":93.4},{"g":117.4},{"g":141.3},{"g":165.5},{"g":189.5}]},
 "mark": {"type":"rule","color":"#6a6e6b","strokeDash":[1,2],"strokeWidth":1},
 "encoding": {"x": {"field":"g","type":"quantitative","scale":{"domain":[-5.02,223.29],"nice":false,"zero":false,"padding":0},
  "axis": {"title":null,"grid":false,"tickCount":500,"values":[-5.02,0,8,16,24,32,40,48,56,64,72,80,88,96,104,112,120,128,136,144,152,160,168,176,184,192,200,208,216],
   "labelExpr":"datum.value < -1 ? 'y 2022' : ['31 May 03:00','31 May 11:00','31 May 19:00','1 Jun 03:00','1 Jun 11:00','1 Jun 19:00','2 Jun 03:00','2 Jun 11:00','2 Jun 19:00','3 Jun 03:00','3 Jun 11:00','3 Jun 19:00','6 Jun 03:00','6 Jun 11:00','6 Jun 19:00','7 Jun 03:00','7 Jun 11:00','7 Jun 19:00','8 Jun 03:00','8 Jun 11:00','8 Jun 19:00','9 Jun 03:00','9 Jun 11:00','9 Jun 19:00','10 Jun 03:00','10 Jun 11:00','10 Jun 19:00','13 Jun 03:00'][round(datum.value/8)]",
   "labelAlign":"left","labelBaseline":"top","labelOffset":2,"labelPadding":-2,"tickSize":5,"labelFontSize":5.2,"labelFont":"Liberation Sans","labelColor":"#c8c8c8","tickColor":"#9a9a9a","domainColor":"#9a9a9a","labelOverlap":false,"labelFlush":false,"labelBound":false}}}},
{"data": {"values": [{"i":107.1,"p":130.395,"t":"USDJPY H1"}]},
 "mark": {"type":"text","font":"Liberation Sans","fontSize":61,"align":"center","baseline":"alphabetic","color":"#353a36"},
 "encoding": {"x":{"field":"i","type":"quantitative"},"y":{"field":"p","type":"quantitative","scale":{"domain":[127.27,134.94],"nice":false,"zero":false,"padding":0}},"text":{"field":"t"}}},
{"data": {"name":"bot"},
 "mark": {"type":"rule","strokeWidth":1,"clip":true},
 "encoding": {"x":{"field":"i","type":"quantitative"},
  "y":{"field":"l","type":"quantitative","scale":{"domain":[127.27,134.94],"nice":false,"zero":false,"padding":0},
   "axis":{"title":null,"orient":"right","grid":false,"tickCount":500,"values":[134.7,134.0833,133.4667,132.85,132.2333,131.6167,131.0,130.3833,129.7667,129.15,128.5333,127.9167,127.3],
    "labelExpr":"['134.7','134.0','133.4','132.8','132.2','131.6','131.0','130.4','129.7','129.1','128.5','127.9','127.3'][round((134.7-datum.value)/0.61667)]",
    "labelAlign":"left","labelBaseline":"middle","tickSize":3,"labelPadding":0,"labelFontSize":4.6,"labelFont":"Liberation Sans","labelColor":"#c8c8c8","tickColor":"#9a9a9a","domainColor":"#9a9a9a","labelOverlap":false,"labelFlush":false,"labelBound":false}},
  "y2":{"field":"h"},
  "color":{"condition":{"test":"datum.c >= datum.o","value":"#14a468"},"value":"#e4f4e4"}}},
{"data": {"name":"bot"},
 "mark": {"type":"bar","width":2.6,"clip":true},
 "encoding": {"x":{"field":"i","type":"quantitative"},
  "y":{"field":"o","type":"quantitative"},
  "y2":{"field":"c"},
  "color":{"condition":{"test":"datum.c >= datum.o","value":"#14a468"},"value":"#e4f4e4"}}},
{"data": {"values": [{"i":0.7,"p":128.26},{"i":7.15,"p":127.65},{"i":14.4,"p":128.95},{"i":21.2,"p":128.41},{"i":30.0,"p":129.14},{"i":33.0,"p":129.5},{"i":38.4,"p":129.23},{"i":40.6,"p":129.71},{"i":43.7,"p":130.24},{"i":50.2,"p":129.8},{"i":55.5,"p":130.12},{"i":60.4,"p":129.65},{"i":69.2,"p":130.01},{"i":79.5,"p":129.76},{"i":81.4,"p":129.99},{"i":89.0,"p":131.04},{"i":102.3,"p":130.46},{"i":105.7,"p":130.97},{"i":109.1,"p":130.67},{"i":114.8,"p":132.1},{"i":119.6,"p":131.68},{"i":125.3,"p":132.87},{"i":130.1,"p":132.59},{"i":135.8,"p":132.28},{"i":144.9,"p":133.21},{"i":149.5,"p":132.93},{"i":156.7,"p":134.28},{"i":159.4,"p":133.77},{"i":167.0,"p":134.56},{"i":170.8,"p":133.91},{"i":174.2,"p":134.28},{"i":179.2,"p":133.18},{"i":188.7,"p":134.36},{"i":199.3,"p":133.46},{"i":208.8,"p":134.45}]},
 "mark": {"type":"line","color":"#f5f57a","strokeWidth":2.2,"clip":true},
 "encoding": {"x":{"field":"i","type":"quantitative"},"y":{"field":"p","type":"quantitative"}}},
{"data": {"values": [{"i":0.68,"i2":19.47,"p":128.26,"p2":128.26},{"i":14.38,"i2":29.06,"p":128.91,"p2":128.91},{"i":32.26,"i2":64.38,"p":129.62,"p2":129.62},{"i":42.92,"i2":89.34,"p":130.41,"p2":129.88},{"i":114.8,"i2":143.8,"p":132.08,"p2":132.16},{"i":144.9,"i2":155.9,"p":133.21,"p2":133.24},{"i":173.7,"i2":216.1,"p":134.28,"p2":134.54},{"i":170.8,"i2":178.0,"p":133.91,"p2":133.92}]},
 "mark": {"type":"rule","color":"#f5f57a","strokeWidth":2,"clip":true},
 "encoding": {"x":{"field":"i","type":"quantitative"},"x2":{"field":"i2"},"y":{"field":"p","type":"quantitative"},"y2":{"field":"p2"}}},
{"data": {"values": [{"i":-5.02,"i2":208.7,"p":134.92,"p2":134.92}]},
 "mark": {"type":"rule","color":"#1fbf1f","strokeWidth":2,"clip":true},
 "encoding": {"x":{"field":"i","type":"quantitative"},"x2":{"field":"i2"},"y":{"field":"p","type":"quantitative"},"y2":{"field":"p2"}}},
{"data": {"values": [{"i":205.9,"i2":222.8,"p":134.92,"p2":134.61}]},
 "mark": {"type":"rect","filled":false,"color":"#128f3c","strokeWidth":2,"clip":true},
 "encoding": {"x":{"field":"i","type":"quantitative"},"x2":{"field":"i2"},"y":{"field":"p","type":"quantitative"},"y2":{"field":"p2"}}},
{"data": {"values": [{"i":12.1,"i2":12.1,"t":127.68,"h":128.06,"a":0},{"i":26.2,"i2":27.2,"t":128.7,"h":128.46,"a":150},{"i":38.1,"i2":38.1,"t":128.53,"h":129.04,"a":0},{"i":83.0,"i2":83.0,"t":129.38,"h":129.75,"a":0},{"i":110.8,"i2":110.8,"t":130.33,"h":130.7,"a":0},{"i":121.5,"i2":121.5,"t":131.31,"h":131.68,"a":0},{"i":151.5,"i2":151.5,"t":132.77,"h":133.04,"a":0},{"i":175.2,"i2":175.2,"t":134.8,"h":134.43,"a":180}]},
 "layer": [
  {"mark": {"type":"rule","color":"#f58c8c","strokeWidth":3.5,"clip":true},
   "encoding": {"x":{"field":"i","type":"quantitative"},"x2":{"field":"i2"},"y":{"field":"t","type":"quantitative"},"y2":{"field":"h"}}},
  {"mark": {"type":"point","shape":"triangle-up","filled":true,"color":"#f58c8c","opacity":1,"size":70,"clip":true},
   "encoding": {"x":{"field":"i2","type":"quantitative"},"y":{"field":"h","type":"quantitative"},"angle":{"field":"a","type":"quantitative","scale":null}}}
 ]},
{"data": {"values": [{"k":1,"i":208.8,"p":134.45},{"k":2,"i":213.0,"p":133.49},{"k":3,"i":216.1,"p":133.91},{"k":4,"i":219.1,"p":132.73}]},
 "mark": {"type":"line","color":"#c8c8c8","strokeWidth":2,"clip":true},
 "encoding": {"x":{"field":"i","type":"quantitative"},"y":{"field":"p","type":"quantitative"},"order":{"field":"k"}}},
{"data": {"values": [{"i":212.6,"p":133.58,"a":147},{"i":215.6,"p":133.85,"a":47},{"i":218.7,"p":132.84,"a":159}]},
 "mark": {"type":"point","shape":"triangle-up","filled":true,"color":"#c8c8c8","opacity":1,"size":45,"clip":true},
 "encoding": {"x":{"field":"i","type":"quantitative"},"y":{"field":"p","type":"quantitative"},"angle":{"field":"a","type":"quantitative","scale":null}}},
{"data": {"values": [{"i":-5.02,"p":134.72,"t":"JPY,H1  155.913 155.988 155.899 155.988"}]},
 "mark": {"type":"text","font":"Liberation Sans","fontSize":4.8,"align":"left","baseline":"alphabetic","color":"#c8c8c8","clip":true},
 "encoding": {"x":{"field":"i","type":"quantitative"},"y":{"field":"p","type":"quantitative"},"text":{"field":"t"}}},
{"data": {"values": [
  {"i":-5.02,"i2":-3.88,"p":134.36,"p2":134.63,"f":"#2ec42e"},
  {"i":-3.65,"i2":-2.28,"p":134.36,"p2":134.63,"f":"#8a8a8a"},
  {"i":-1.83,"i2":13.93,"p":134.36,"p2":134.63,"f":"#e2e2e2"},
  {"i":14.38,"i2":16.21,"p":134.36,"p2":134.63,"f":"#cfcfcf"},
  {"i":16.32,"i2":18.15,"p":134.36,"p2":134.63,"f":"#cfcfcf"},
  {"i":18.26,"i2":20.09,"p":134.36,"p2":134.63,"f":"#cfcfcf"},
  {"i":21.23,"i2":23.29,"p":134.36,"p2":134.63,"f":"#cfcfcf"},
  {"i":23.4,"i2":25.34,"p":134.36,"p2":134.63,"f":"#cfcfcf"},
  {"i":26.26,"i2":28.2,"p":134.36,"p2":134.63,"f":"#cfcfcf"},
  {"i":28.31,"i2":30.14,"p":134.36,"p2":134.63,"f":"#cfcfcf"}]},
 "mark": {"type":"rect","clip":true},
 "encoding": {"x":{"field":"i","type":"quantitative"},"x2":{"field":"i2"},"y":{"field":"p","type":"quantitative"},"y2":{"field":"p2"},"color":{"field":"f","type":"nominal","scale":null}}},
{"data": {"values": [
  {"i":6.05,"p":134.4,"t":"2022.06.10 20:00","s":6.5,"f":"#111111"},
  {"i":15.3,"p":134.41,"t":"▸","s":5,"f":"#222222"},
  {"i":17.23,"p":134.41,"t":"-","s":5,"f":"#222222"},
  {"i":19.17,"p":134.41,"t":"▾","s":5,"f":"#222222"},
  {"i":22.26,"p":134.41,"t":"|<","s":4,"f":"#222222"},
  {"i":24.37,"p":134.41,"t":">|","s":4,"f":"#222222"},
  {"i":27.23,"p":134.41,"t":"▲","s":4,"f":"#222222"},
  {"i":29.22,"p":134.41,"t":"▼","s":4,"f":"#222222"}]},
 "mark": {"type":"text","font":"DejaVu Sans Mono","align":"center","baseline":"alphabetic","clip":true},
 "encoding": {"x":{"field":"i","type":"quantitative"},"y":{"field":"p","type":"quantitative"},"text":{"field":"t"},"size":{"field":"s","type":"quantitative","scale":null},"color":{"field":"f","type":"nominal","scale":null}}}
]
}
]
}
